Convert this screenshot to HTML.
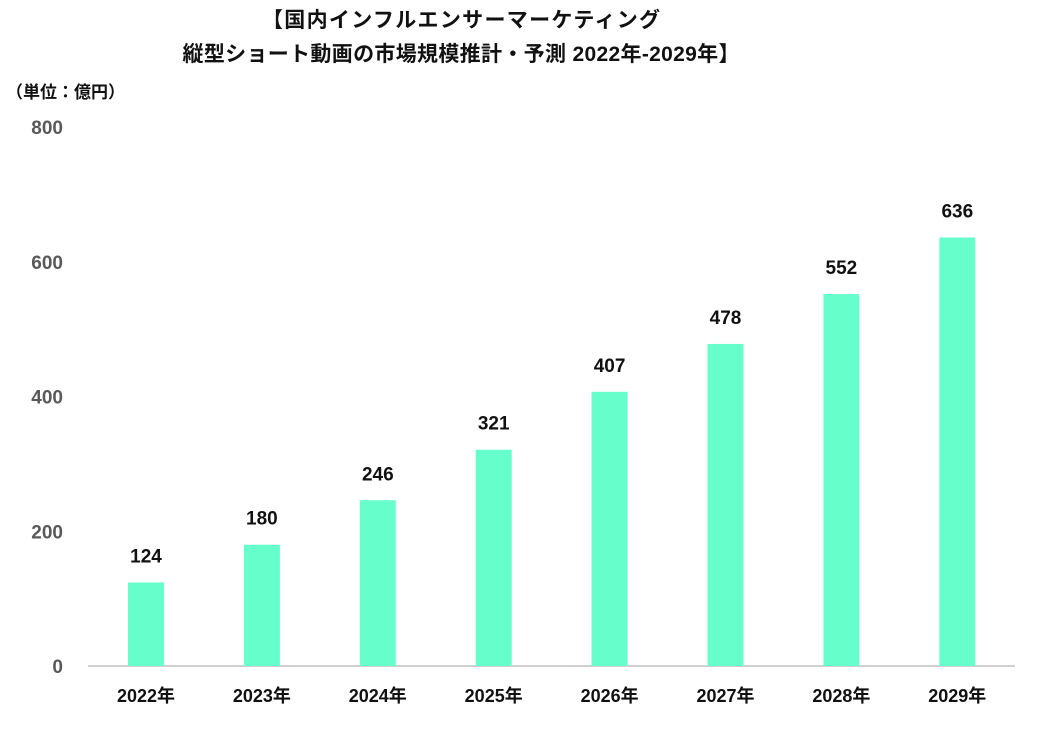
<!DOCTYPE html>
<html><head><meta charset="utf-8"><style>
body{margin:0;background:#fff;width:1041px;height:729px;overflow:hidden;font-family:"Liberation Sans","Noto Sans CJK JP",sans-serif}
</style></head><body>
<svg id="c" width="1041" height="729" xmlns="http://www.w3.org/2000/svg">
<text x="461" y="27" text-anchor="middle" font-size="21" font-weight="bold" fill="#111" font-family="Liberation Sans, Noto Sans CJK JP, sans-serif" textLength="398">【国内インフルエンサーマーケティング</text>
<text x="461" y="61" text-anchor="middle" font-size="21" font-weight="bold" fill="#111" font-family="Liberation Sans, Noto Sans CJK JP, sans-serif" textLength="557">縦型ショート動画の市場規模推計・予測 2022年-2029年】</text>
<text x="6" y="98" font-size="17" font-weight="bold" fill="#111" font-family="Liberation Sans, Noto Sans CJK JP, sans-serif">（単位：億円）</text>
<g id="g"></g>
</svg>
<script>
const categories=["2022年","2023年","2024年","2025年","2026年","2027年","2028年","2029年"];
const values=[124,180,246,321,407,478,552,636];
const yTicks=[0,200,400,600,800];
const svg=document.getElementById('g');const NS="http://www.w3.org/2000/svg";
const y0=666,y1=127,ymax=800;
const y=v=>y0-(v/ymax)*(y0-y1);
const x=i=>146+i*115.9;
function mk(t,a){const e=document.createElementNS(NS,t);for(const k in a)e.setAttribute(k,a[k]);svg.appendChild(e);return e;}
const ff="Liberation Sans, Noto Sans CJK JP, sans-serif";
yTicks.forEach(t=>{const e=mk('text',{x:63,y:y(t)+7,'text-anchor':'end','font-size':19,'font-weight':'bold',fill:'#595959','font-family':ff});e.textContent=t;

});
const ax=mk('line',{x1:88,x2:1015,y1:y0,y2:y0,stroke:'#d0d0d0','stroke-width':2});


categories.forEach((c,i)=>{const v=values[i];
const b=mk('rect',{x:x(i)-18,y:y(v),width:36,height:y0-y(v),fill:'#66ffcc'});


const l=mk('text',{x:x(i),y:y(v)-20,'text-anchor':'middle','font-size':19,'font-weight':'bold',fill:'#111','font-family':ff});l.textContent=v;


const t=mk('text',{x:x(i),y:702,'text-anchor':'middle','font-size':18,'font-weight':'bold',fill:'#111','font-family':ff});t.textContent=c;

});
</script>
</body></html>
